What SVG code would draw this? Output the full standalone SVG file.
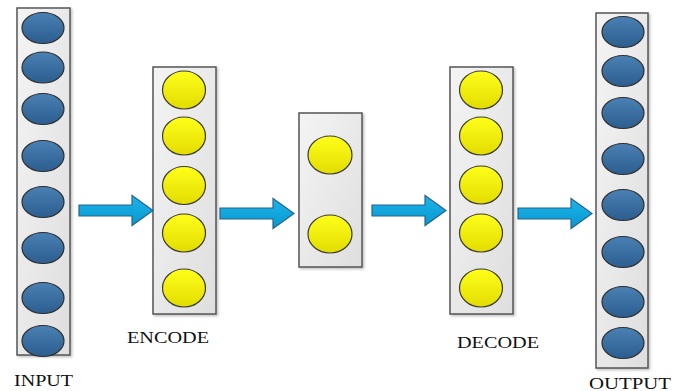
<svg xmlns="http://www.w3.org/2000/svg" xmlns:xlink="http://www.w3.org/1999/xlink" width="681" height="391" viewBox="0 0 681 391">
<defs>
<linearGradient id="boxg" x1="0" y1="0" x2="1" y2="1"><stop offset="0" stop-color="#f4f4f4"/><stop offset="1" stop-color="#dedede"/></linearGradient>
<linearGradient id="blueg" x1="0" y1="0" x2="0" y2="1"><stop offset="0" stop-color="#4a80b4"/><stop offset="1" stop-color="#2c5e8f"/></linearGradient>
<linearGradient id="yelg" x1="0" y1="0" x2="0" y2="1"><stop offset="0" stop-color="#ffff1a"/><stop offset="1" stop-color="#e2dc00"/></linearGradient>
<linearGradient id="arrg" x1="0" y1="0" x2="0" y2="1"><stop offset="0" stop-color="#1cb4ea"/><stop offset="1" stop-color="#0898d0"/></linearGradient>
<filter id="sh" x="-10%" y="-10%" width="130%" height="130%"><feDropShadow dx="1.5" dy="1.5" stdDeviation="1" flood-color="#000" flood-opacity="0.25"/></filter>
<path id="arrow" d="M0,-5.5 H53 V-15 L74,0 L53,15 V5.5 H0 Z"/>
</defs>
<style>
.box{fill:url(#boxg);stroke:#555;stroke-width:1.5;filter:url(#sh)}
.b{fill:url(#blueg);stroke:#2e2e2e;stroke-width:1.2}
.y{fill:url(#yelg);stroke:#3a3a3a;stroke-width:1.2}
.arr{fill:url(#arrg);stroke:#27658c;stroke-width:1.2}
.lbl{font-family:"Liberation Serif","Times New Roman",serif;font-size:16px;fill:#111}
</style>
<rect width="681" height="391" fill="#fff"/>
<g id="input">
<rect class="box" x="17" y="8" width="53" height="347"/>
<ellipse class="b" cx="43" cy="28" rx="21" ry="15.5"/>
<ellipse class="b" cx="43" cy="67.5" rx="21" ry="15.5"/>
<ellipse class="b" cx="43" cy="109" rx="21" ry="15.5"/>
<ellipse class="b" cx="43" cy="156" rx="21" ry="15.5"/>
<ellipse class="b" cx="43" cy="202" rx="21" ry="15.5"/>
<ellipse class="b" cx="43" cy="248" rx="21" ry="15.5"/>
<ellipse class="b" cx="43" cy="298" rx="21" ry="15.5"/>
<ellipse class="b" cx="43" cy="341" rx="21" ry="15.5"/>
<text class="lbl" x="14" y="386" textLength="59" lengthAdjust="spacingAndGlyphs">INPUT</text>
</g>
<g id="encode">
<rect class="box" x="153" y="67" width="63" height="247"/>
<ellipse class="y" cx="184" cy="90" rx="21.5" ry="19"/>
<ellipse class="y" cx="184" cy="136" rx="21.5" ry="19"/>
<ellipse class="y" cx="184" cy="185.5" rx="21.5" ry="19"/>
<ellipse class="y" cx="184" cy="233" rx="21.5" ry="19"/>
<ellipse class="y" cx="184" cy="288" rx="21.5" ry="19"/>
<text class="lbl" x="127" y="343" textLength="82" lengthAdjust="spacingAndGlyphs">ENCODE</text>
</g>
<g id="code">
<rect class="box" x="299" y="113" width="63" height="154"/>
<ellipse class="y" cx="330" cy="155" rx="22" ry="19"/>
<ellipse class="y" cx="330" cy="234" rx="22" ry="19"/>
</g>
<g id="decode">
<rect class="box" x="450" y="67" width="63" height="247"/>
<ellipse class="y" cx="481" cy="90" rx="21.5" ry="19"/>
<ellipse class="y" cx="481" cy="136" rx="21.5" ry="19"/>
<ellipse class="y" cx="481" cy="185" rx="21.5" ry="19"/>
<ellipse class="y" cx="481" cy="233" rx="21.5" ry="19"/>
<ellipse class="y" cx="481" cy="288" rx="21.5" ry="19"/>
<text class="lbl" x="457" y="348" textLength="82" lengthAdjust="spacingAndGlyphs">DECODE</text>
</g>
<g id="output">
<rect class="box" x="596" y="13" width="52" height="355"/>
<ellipse class="b" cx="623" cy="32" rx="21" ry="15.5"/>
<ellipse class="b" cx="623" cy="71" rx="21" ry="15.5"/>
<ellipse class="b" cx="623" cy="113" rx="21" ry="15.5"/>
<ellipse class="b" cx="623" cy="159" rx="21" ry="15.5"/>
<ellipse class="b" cx="623" cy="205" rx="21" ry="15.5"/>
<ellipse class="b" cx="623" cy="252" rx="21" ry="15.5"/>
<ellipse class="b" cx="623" cy="302" rx="21" ry="15.5"/>
<ellipse class="b" cx="623" cy="343" rx="21" ry="15.5"/>
<text class="lbl" x="589" y="389" textLength="82" lengthAdjust="spacingAndGlyphs">OUTPUT</text>
</g>
<g id="connectors">
<use xlink:href="#arrow" class="arr" transform="translate(79,210.5)"/>
<use xlink:href="#arrow" class="arr" transform="translate(220,213.5)"/>
<use xlink:href="#arrow" class="arr" transform="translate(372,210.5)"/>
<use xlink:href="#arrow" class="arr" transform="translate(518,213.5)"/>
</g>
</svg>
